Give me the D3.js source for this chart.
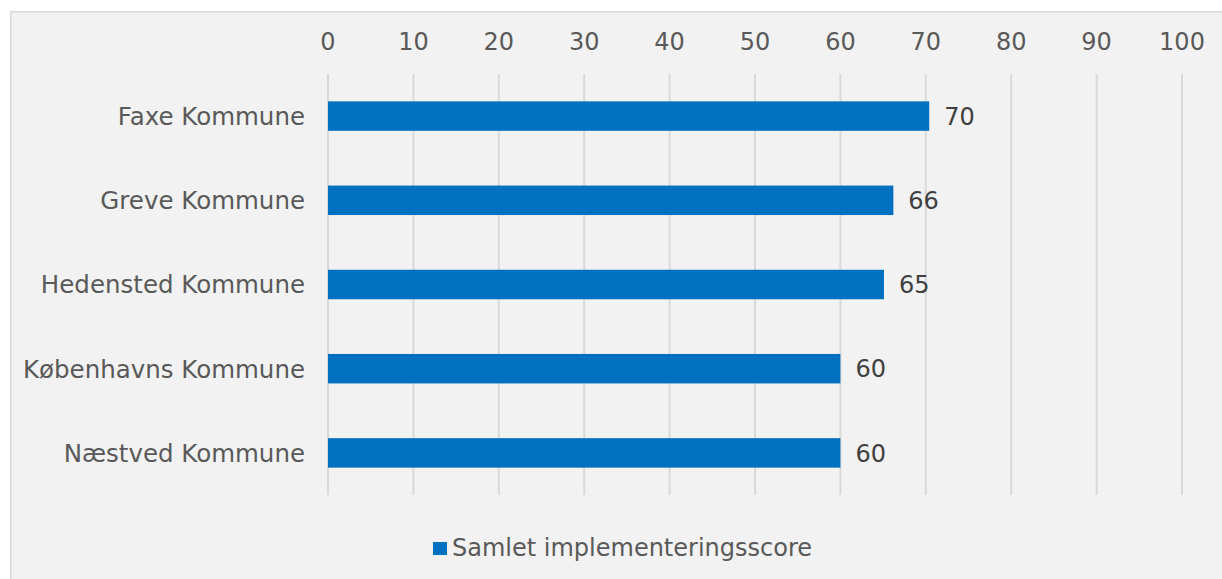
<!DOCTYPE html>
<html>
<head>
<meta charset="utf-8">
<script src="https://cdn.jsdelivr.net/npm/d3@7"></script>
<style>
  body { margin: 0; background: #fff; }
  svg text { font-family: "DejaVu Sans", Verdana, sans-serif; fill: #595959; }
</style>
</head>
<body>
<svg id="chart" width="1222" height="579"></svg>
<script>
// data
var kommuner = ["Faxe Kommune", "Greve Kommune", "Hedensted Kommune", "Københavns Kommune", "Næstved Kommune"];
var scores = [70.4, 66.2, 65.1, 60, 60];
var tickValues = [0, 10, 20, 30, 40, 50, 60, 70, 80, 90, 100];
var seriesName = "Samlet implementeringsscore";

var svg = d3.select("#chart");

// chart area background with border
svg.append("rect")
  .attr("x", 10.75).attr("y", 11.75)
  .attr("width", 1222).attr("height", 579)
  .attr("fill", "#f2f2f2")
  .attr("stroke", "#d9d9d9")
  .attr("stroke-width", 1.5);

var x = d3.scaleLinear().domain([0, 100]).range([328, 1182]);
var y = d3.scaleBand().domain(kommuner).range([74, 495]).paddingInner(0.65).paddingOuter(0.325);

// vertical gridlines
svg.append("g").selectAll("line")
  .data(tickValues)
  .enter().append("line")
  .attr("x1", function(d) { return x(d); })
  .attr("x2", function(d) { return x(d); })
  .attr("y1", 74).attr("y2", 495)
  .attr("stroke", "#d9d9d9")
  .attr("stroke-width", 2);

// tick labels on top
svg.append("g").selectAll("text")
  .data(tickValues)
  .enter().append("text")
  .attr("x", function(d) { return x(d); })
  .attr("y", 50)
  .attr("text-anchor", "middle")
  .style("font-size", "24px")
  .text(function(d) { return d; });

var rows = kommuner.map(function(k, i) { return { name: k, value: scores[i] }; });

// bars
svg.append("g").selectAll("rect")
  .data(rows)
  .enter().append("rect")
  .attr("x", x(0))
  .attr("y", function(d) { return y(d.name); })
  .attr("width", function(d) { return x(d.value) - x(0); })
  .attr("height", y.bandwidth())
  .attr("fill", "#0070c0");

// category labels
svg.append("g").selectAll("text")
  .data(rows)
  .enter().append("text")
  .attr("x", 305)
  .attr("y", function(d) { return y(d.name) + y.bandwidth() / 2; })
  .attr("dy", "0.36em")
  .attr("text-anchor", "end")
  .style("font-size", "24.5px")
  .text(function(d) { return d.name; });

// value labels
svg.append("g").selectAll("text")
  .data(rows)
  .enter().append("text")
  .attr("x", function(d) { return x(d.value) + 15; })
  .attr("y", function(d) { return y(d.name) + y.bandwidth() / 2; })
  .attr("dy", "0.36em")
  .style("font-size", "24px")
  .style("fill", "#404040")
  .text(function(d) { return Math.round(d.value); });

// legend
var legend = svg.append("g");
legend.append("rect")
  .attr("x", 433).attr("y", 542)
  .attr("width", 14).attr("height", 13)
  .attr("fill", "#0070c0");
legend.append("text")
  .attr("x", 452).attr("y", 556)
  .style("font-size", "24px")
  .text(seriesName);
</script>
</body>
</html>
